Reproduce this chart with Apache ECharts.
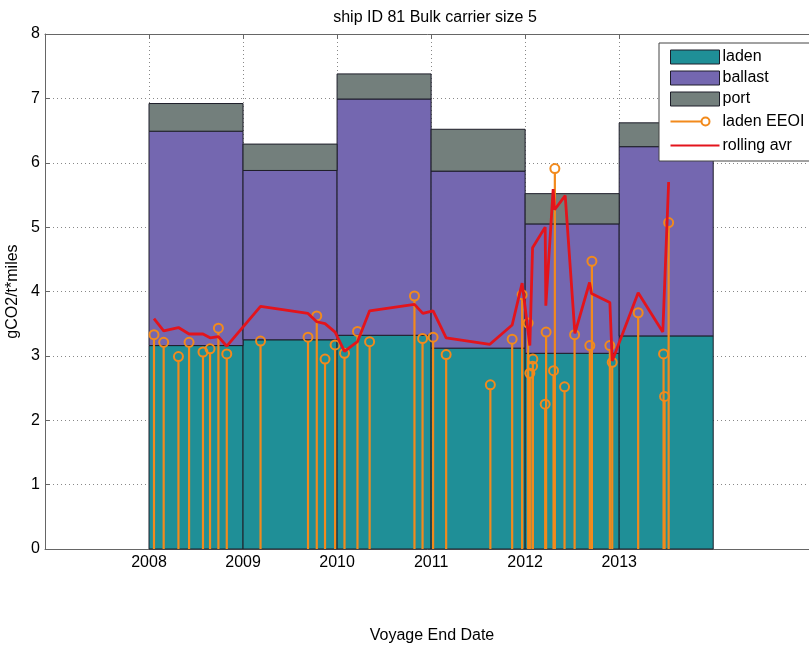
<!DOCTYPE html>
<html>
<head>
<meta charset="utf-8">
<script src="https://cdn.jsdelivr.net/npm/echarts@6/dist/echarts.min.js"></script>
<style>
  html, body { margin: 0; padding: 0; background: #fff; }
  #chart { width: 809px; height: 645px; }
</style>
</head>
<body>
<div id="chart"></div>
<script>
// yearly stacked bars (each bar covers one year)
var barStarts = [2008, 2009, 2010, 2011, 2012, 2013];
var barEnds = [2009, 2010, 2011, 2012, 2013, 2014];
var ladenTop = [3.16, 3.25, 3.32, 3.12, 3.04, 3.31];
var ballastTop = [6.49, 5.88, 6.99, 5.87, 5.05, 6.25];
var portTop = [6.92, 6.29, 7.38, 6.52, 5.52, 6.62];

// laden EEOI per voyage (stems)
var voyageDates = [2008.053, 2008.156, 2008.313, 2008.426, 2008.574, 2008.649, 2008.738, 2008.827,
  2009.186, 2009.691, 2009.784, 2009.872, 2009.979, 2010.079, 2010.217, 2010.346,
  2010.823, 2010.909, 2011.021, 2011.160, 2011.630, 2011.862, 2011.968, 2012.032,
  2012.050, 2012.079, 2012.082, 2012.213, 2012.223, 2012.302, 2012.316, 2012.419,
  2012.526, 2012.688, 2012.710, 2012.901, 2012.926, 2013.202, 2013.472, 2013.483, 2013.526];
var voyageEEOI = [3.33, 3.21, 2.99, 3.21, 3.06, 3.11, 3.43, 3.03,
  3.23, 3.29, 3.62, 2.95, 3.17, 3.04, 3.38, 3.22,
  3.93, 3.27, 3.29, 3.02, 2.55, 3.26, 3.95, 3.51,
  2.73, 2.84, 2.95, 2.25, 3.37, 2.77, 5.91, 2.52,
  3.33, 3.16, 4.47, 3.16, 2.90, 3.67, 3.03, 2.37, 5.07];

// rolling average line, in drawing order
var avgDates = [2008.053, 2008.156, 2008.313, 2008.426, 2008.574, 2008.649, 2008.738, 2008.827,
  2009.186, 2009.691, 2009.784, 2009.872, 2009.979, 2010.079, 2010.217, 2010.346,
  2010.823, 2010.912, 2011.021, 2011.160, 2011.625, 2011.862, 2011.968, 2012.050,
  2012.079, 2012.213, 2012.220, 2012.298, 2012.313, 2012.426, 2012.529, 2012.685,
  2012.706, 2012.901, 2012.926, 2013.202, 2013.464, 2013.526];
var avgValues = [3.58, 3.39, 3.44, 3.34, 3.34, 3.28, 3.30, 3.15,
  3.77, 3.66, 3.53, 3.50, 3.37, 3.07, 3.22, 3.70,
  3.80, 3.66, 3.70, 3.28, 3.18, 3.48, 4.13, 3.16,
  4.68, 5.00, 3.78, 5.59, 5.27, 5.49, 3.35, 4.14,
  3.97, 3.83, 2.92, 3.98, 3.37, 5.70];

var yearTicks = [2008, 2009, 2010, 2011, 2012, 2013];

var cLaden = '#1f8f97', cBallast = '#7467b0', cPort = '#737f7c';
var cStem = '#f28a1c', cAvg = '#e3141c';
var font = "'Liberation Sans', Arial, sans-serif";

function segs(lo, hi) {
  return barStarts.map(function (s, i) {
    return [s, barEnds[i], lo ? lo[i] : 0, hi[i]];
  });
}

function barItem(color) {
  return function (params, api) {
    var p0 = api.coord([api.value(0), api.value(3)]);
    var p1 = api.coord([api.value(1), api.value(2)]);
    return {
      type: 'rect',
      shape: { x: p0[0], y: p0[1], width: p1[0] - p0[0], height: p1[1] - p0[1] },
      style: { fill: color, stroke: '#1e1e2a', lineWidth: 1 }
    };
  };
}

var chart = echarts.init(document.getElementById('chart'));

chart.setOption({
  animation: false,
  textStyle: { fontFamily: font },
  title: {
    text: 'ship ID 81 Bulk carrier size 5',
    left: 430, top: 5, textAlign: 'center',
    textStyle: { fontSize: 16, fontWeight: 'normal', color: '#000', fontFamily: font }
  },
  grid: { left: 45, right: -10, top: 34, bottom: 96, outerBoundsMode: 'none', containLabel: false },
  legend: {
    orient: 'vertical',
    left: 659, top: 43,
    padding: [6, 40, 6, 9],
    itemWidth: 49, itemHeight: 14, itemGap: 5,
    backgroundColor: '#fff',
    borderColor: '#444', borderWidth: 1,
    selectedMode: false,
    textStyle: { fontSize: 16, color: '#000', fontFamily: font, padding: [0, 0, 0, -2] },
    data: [
      { name: 'laden', icon: 'rect', itemStyle: { color: cLaden, borderColor: '#1e1e2a', borderWidth: 1 } },
      { name: 'ballast', icon: 'rect', itemStyle: { color: cBallast, borderColor: '#1e1e2a', borderWidth: 1 } },
      { name: 'port', icon: 'rect', itemStyle: { color: cPort, borderColor: '#1e1e2a', borderWidth: 1 } },
      { name: 'laden EEOI', icon: 'path://M0 0M49 14M0 7H31M39 7A4 4 0 1 1 31 7A4 4 0 1 1 39 7Z',
        itemStyle: { color: 'none', borderColor: cStem, borderWidth: 2 } },
      { name: 'rolling avr', icon: 'path://M0 0M49 14M0 7H49',
        itemStyle: { color: 'none', borderColor: cAvg, borderWidth: 2 } }
    ]
  },
  xAxis: [{
    type: 'value',
    min: 2006.894, max: 2015.125,
    name: 'Voyage End Date',
    nameLocation: 'middle', nameGap: 79,
    nameTextStyle: { fontSize: 16, color: '#000', fontFamily: font },
    axisLine: { lineStyle: { color: '#666' } },
    axisTick: { inside: true, length: 5, lineStyle: { color: '#666' }, customValues: yearTicks },
    axisLabel: { fontSize: 16, color: '#000', margin: 6, customValues: yearTicks,
      formatter: function (v) { return String(Math.round(v)); } },
    splitLine: { show: true, lineStyle: { color: '#888', type: [1, 3] } }
  }, {
    type: 'value', position: 'top',
    min: 2006.894, max: 2015.125,
    axisLine: { lineStyle: { color: '#666' } },
    axisTick: { inside: true, length: 5, lineStyle: { color: '#666' }, customValues: yearTicks },
    axisLabel: { show: false },
    splitLine: { show: false }
  }],
  yAxis: {
    type: 'value', min: 0, max: 8, interval: 1,
    name: 'gCO2/t*miles',
    nameLocation: 'middle', nameGap: 20, nameRotate: 90,
    nameTextStyle: { fontSize: 16, color: '#000', fontFamily: font },
    axisLine: { show: true, lineStyle: { color: '#666' } },
    axisTick: { show: true, inside: true, length: 5, lineStyle: { color: '#666' } },
    axisLabel: { fontSize: 16, color: '#000', margin: 5 },
    splitLine: { show: true, lineStyle: { color: '#888', type: [1, 3] } }
  },
  series: [
    { name: 'laden', type: 'custom', renderItem: barItem(cLaden), itemStyle: { color: cLaden },
      encode: { x: [0, 1], y: [2, 3] }, data: segs(null, ladenTop), z: 2 },
    { name: 'ballast', type: 'custom', renderItem: barItem(cBallast), itemStyle: { color: cBallast },
      encode: { x: [0, 1], y: [2, 3] }, data: segs(ladenTop, ballastTop), z: 2 },
    { name: 'port', type: 'custom', renderItem: barItem(cPort), itemStyle: { color: cPort },
      encode: { x: [0, 1], y: [2, 3] }, data: segs(ballastTop, portTop), z: 2 },
    { name: 'laden EEOI', type: 'custom', itemStyle: { color: cStem }, z: 3,
      encode: { x: 0, y: 1 },
      data: voyageDates.map(function (d, i) { return [d, voyageEEOI[i]]; }),
      renderItem: function (params, api) {
        var top = api.coord([api.value(0), api.value(1)]);
        var base = api.coord([api.value(0), 0]);
        return {
          type: 'group',
          children: [
            { type: 'line', shape: { x1: base[0], y1: base[1], x2: top[0], y2: top[1] + 4.5 },
              style: { stroke: cStem, lineWidth: 2.2 } },
            { type: 'circle', shape: { cx: top[0], cy: top[1], r: 4.5 },
              style: { fill: 'none', stroke: cStem, lineWidth: 2 } }
          ]
        };
      } },
    { name: 'rolling avr', type: 'line', z: 4,
      data: avgDates.map(function (d, i) { return [d, avgValues[i]]; }),
      showSymbol: false, symbol: 'none',
      lineStyle: { color: cAvg, width: 2.8 }, itemStyle: { color: cAvg } }
  ]
});
</script>
</body>
</html>
